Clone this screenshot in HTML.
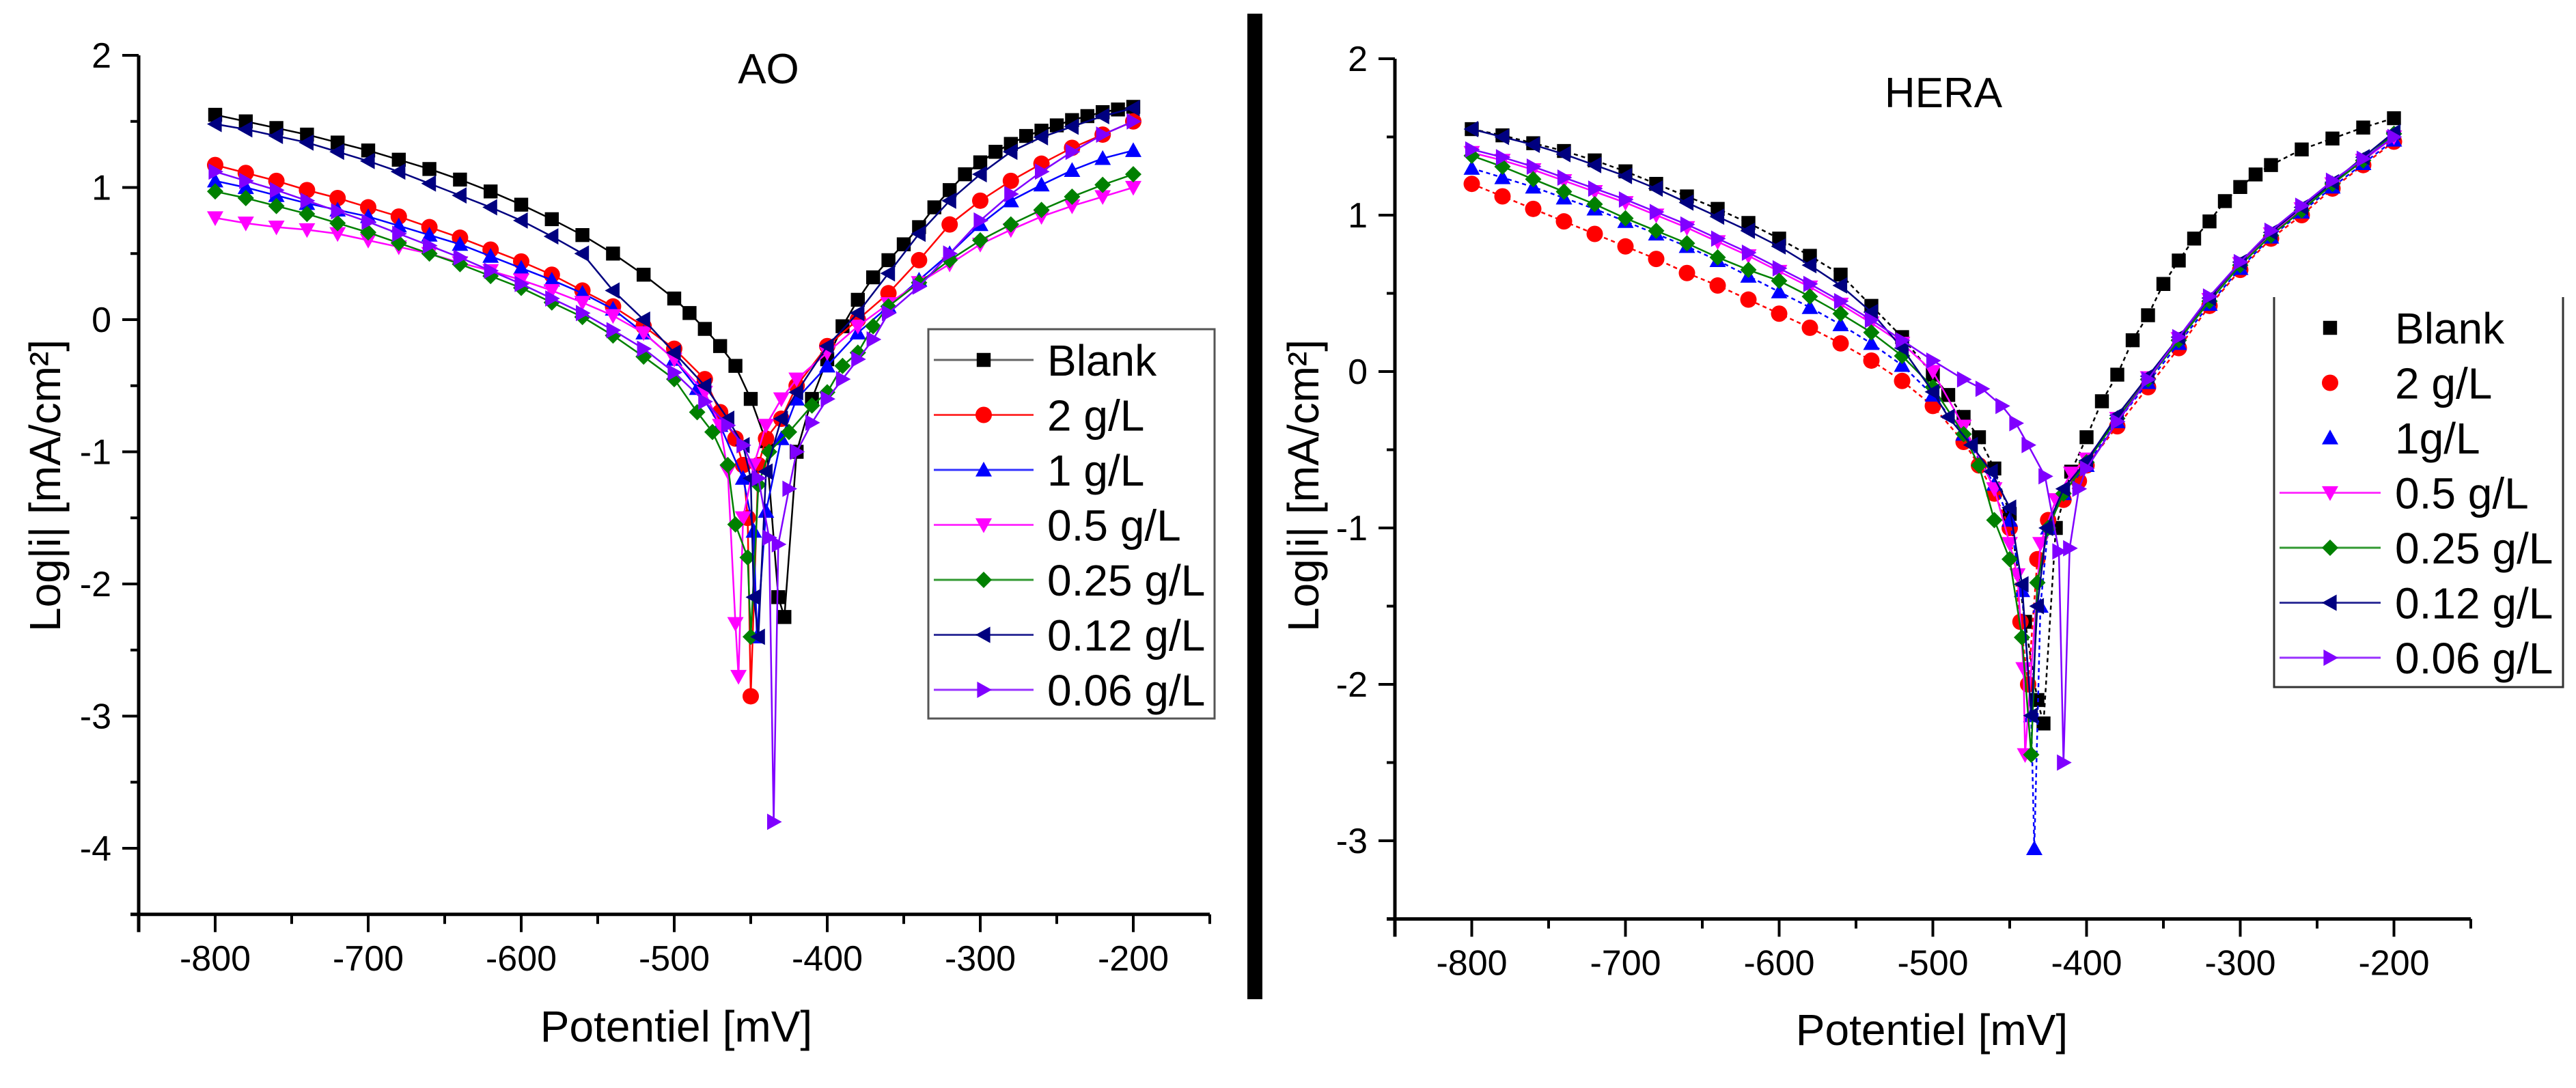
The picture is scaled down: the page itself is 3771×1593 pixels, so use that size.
<!DOCTYPE html>
<html><head><meta charset="utf-8"><style>
html,body{margin:0;padding:0;background:#fff;}
svg{display:block;font-family:"Liberation Sans",Arial,sans-serif;}
</style></head><body>
<svg id="fig" width="3771" height="1593" viewBox="0 0 3771 1593" xmlns="http://www.w3.org/2000/svg">
<rect x="0" y="0" width="3771" height="1593" fill="#fff"/>
<rect x="1826" y="20" width="22" height="1443" fill="#000"/>
<g id="left"></g>
<g id="right"></g>
</svg>
<script>
// ---------- data ----------
const seriesNames = ["Blank","2 g/L","1 g/L","0.5 g/L","0.25 g/L","0.12 g/L","0.06 g/L"];
const seriesNamesHera = ["Blank","2 g/L","1g/L","0.5 g/L","0.25 g/L","0.12 g/L","0.06 g/L"];
const xTicks = [-800,-700,-600,-500,-400,-300,-200];
const yTicksAO = [2,1,0,-1,-2,-3,-4];
const yTicksHera = [2,1,0,-1,-2,-3];

// AO panel
const aoBlankX = [-800,-780,-760,-740,-720,-700,-680,-660,-640,-620,-600,-580,-560,-540,-520,-500,-490,-480,-470,-460,-450,-440,-432,-428,-420,-410,-400,-390,-380,-370,-360,-350,-340,-330,-320,-310,-300,-290,-280,-270,-260,-250,-240,-230,-220,-210,-200];
const aoBlankY = [1.55,1.50,1.45,1.40,1.34,1.28,1.21,1.14,1.06,0.97,0.87,0.76,0.64,0.50,0.34,0.16,0.05,-0.07,-0.2,-0.35,-0.6,-0.92,-2.1,-2.25,-1.0,-0.6,-0.3,-0.05,0.15,0.32,0.45,0.57,0.7,0.85,0.98,1.1,1.19,1.27,1.33,1.39,1.43,1.47,1.51,1.54,1.57,1.59,1.61];
const ao2X = [-800,-780,-760,-740,-720,-700,-680,-660,-640,-620,-600,-580,-560,-540,-520,-500,-480,-470,-460,-455,-452,-450,-445,-440,-430,-420,-400,-380,-360,-340,-320,-300,-280,-260,-240,-220,-200];
const ao2Y = [1.17,1.11,1.05,0.98,0.92,0.85,0.78,0.7,0.62,0.53,0.44,0.34,0.22,0.1,-0.05,-0.22,-0.45,-0.7,-0.9,-1.1,-1.5,-2.85,-1.1,-0.9,-0.75,-0.5,-0.2,0.0,0.2,0.45,0.72,0.9,1.05,1.18,1.3,1.4,1.5];
const ao1X = [-800,-780,-760,-740,-720,-700,-680,-660,-640,-620,-600,-580,-560,-540,-520,-500,-485,-470,-455,-448,-446,-440,-430,-420,-400,-380,-360,-340,-320,-300,-280,-260,-240,-220,-200];
const ao1Y = [1.05,1.0,0.94,0.88,0.83,0.78,0.71,0.64,0.57,0.48,0.39,0.3,0.2,0.08,-0.1,-0.3,-0.52,-0.8,-1.2,-1.6,-2.4,-1.45,-0.9,-0.6,-0.35,-0.1,0.1,0.3,0.5,0.72,0.9,1.02,1.13,1.22,1.28];
const ao05X = [-800,-780,-760,-740,-720,-700,-680,-660,-640,-620,-600,-580,-560,-540,-520,-500,-480,-470,-465,-460,-458,-455,-448,-440,-430,-420,-400,-380,-360,-340,-320,-300,-280,-260,-240,-220,-200];
const ao05Y = [0.77,0.73,0.7,0.68,0.65,0.6,0.55,0.5,0.43,0.37,0.3,0.22,0.13,0.03,-0.1,-0.3,-0.55,-0.8,-1.15,-2.3,-2.7,-1.5,-1.1,-0.8,-0.6,-0.45,-0.25,-0.05,0.12,0.28,0.42,0.57,0.68,0.78,0.86,0.93,1.0];
const ao025X = [-800,-780,-760,-740,-720,-700,-680,-660,-640,-620,-600,-580,-560,-540,-520,-500,-485,-475,-465,-460,-452,-450,-445,-438,-425,-410,-400,-390,-380,-370,-360,-340,-320,-300,-280,-260,-240,-220,-200];
const ao025Y = [0.97,0.92,0.86,0.8,0.73,0.66,0.58,0.5,0.42,0.33,0.24,0.13,0.02,-0.12,-0.28,-0.45,-0.7,-0.85,-1.1,-1.55,-1.8,-2.4,-1.25,-1.0,-0.85,-0.65,-0.55,-0.35,-0.25,-0.05,0.1,0.28,0.45,0.6,0.72,0.83,0.93,1.02,1.1];
const ao012X = [-800,-780,-760,-740,-720,-700,-680,-660,-640,-620,-600,-580,-560,-540,-520,-500,-480,-465,-455,-450,-448,-445,-440,-430,-420,-400,-380,-360,-340,-320,-300,-280,-260,-240,-220,-200];
const ao012Y = [1.48,1.44,1.39,1.34,1.27,1.2,1.12,1.03,0.94,0.85,0.75,0.63,0.5,0.22,0.0,-0.25,-0.5,-0.75,-0.95,-1.2,-2.1,-2.4,-1.15,-0.75,-0.55,-0.2,0.05,0.35,0.65,0.9,1.1,1.27,1.38,1.46,1.54,1.6];
const ao006X = [-800,-780,-760,-740,-720,-700,-680,-660,-640,-620,-600,-580,-560,-540,-520,-500,-480,-465,-455,-445,-438,-435,-432,-425,-420,-410,-400,-390,-380,-370,-360,-340,-320,-300,-280,-260,-240,-220,-200];
const ao006Y = [1.12,1.05,0.98,0.9,0.82,0.74,0.65,0.56,0.47,0.37,0.27,0.16,0.05,-0.08,-0.22,-0.4,-0.62,-0.8,-0.95,-1.2,-1.65,-3.8,-1.7,-1.28,-1.0,-0.78,-0.6,-0.45,-0.3,-0.15,0.05,0.25,0.5,0.75,0.95,1.12,1.27,1.4,1.5];

// HERA panel
const hBlankX = [-800,-780,-760,-740,-720,-700,-680,-660,-640,-620,-600,-580,-560,-540,-520,-500,-490,-480,-470,-460,-450,-440,-432,-428,-420,-410,-400,-390,-380,-370,-360,-350,-340,-330,-320,-310,-300,-290,-280,-260,-240,-220,-200];
const hBlankY = [1.55,1.51,1.46,1.41,1.35,1.28,1.2,1.12,1.04,0.95,0.85,0.74,0.62,0.42,0.22,-0.02,-0.15,-0.29,-0.42,-0.62,-0.91,-1.6,-2.1,-2.25,-1.0,-0.64,-0.42,-0.19,-0.02,0.2,0.36,0.56,0.71,0.85,0.96,1.09,1.18,1.26,1.32,1.42,1.49,1.56,1.62];
const h2X = [-800,-780,-760,-740,-720,-700,-680,-660,-640,-620,-600,-580,-560,-540,-520,-500,-480,-470,-460,-450,-443,-438,-432,-425,-415,-405,-400,-380,-360,-340,-320,-300,-280,-260,-240,-220,-200];
const h2Y = [1.2,1.12,1.04,0.96,0.88,0.8,0.72,0.63,0.55,0.46,0.37,0.28,0.18,0.07,-0.06,-0.22,-0.45,-0.6,-0.78,-1.0,-1.6,-2.0,-1.2,-0.95,-0.82,-0.7,-0.6,-0.35,-0.1,0.15,0.42,0.65,0.85,1.0,1.17,1.32,1.47];
const h1X = [-800,-780,-760,-740,-720,-700,-680,-660,-640,-620,-600,-580,-560,-540,-520,-500,-480,-460,-450,-442,-436,-434,-430,-425,-415,-400,-380,-360,-340,-320,-300,-280,-260,-240,-220,-200];
const h1Y = [1.3,1.24,1.18,1.11,1.04,0.96,0.88,0.8,0.71,0.61,0.51,0.41,0.3,0.18,0.04,-0.15,-0.4,-0.72,-0.95,-1.4,-2.2,-3.05,-1.5,-1.0,-0.78,-0.6,-0.32,-0.07,0.18,0.43,0.66,0.86,1.02,1.18,1.33,1.48];
const h05X = [-800,-780,-760,-740,-720,-700,-680,-660,-640,-620,-600,-580,-560,-540,-520,-500,-480,-460,-450,-445,-441,-440,-430,-420,-410,-400,-380,-360,-340,-320,-300,-280,-260,-240,-220,-200];
const h05Y = [1.4,1.35,1.29,1.22,1.15,1.08,1.0,0.92,0.83,0.74,0.64,0.54,0.43,0.31,0.18,0.0,-0.35,-0.75,-1.1,-1.3,-1.9,-2.45,-1.1,-0.82,-0.65,-0.56,-0.3,-0.04,0.21,0.46,0.69,0.88,1.04,1.2,1.35,1.5];
const h025X = [-800,-780,-760,-740,-720,-700,-680,-660,-640,-620,-600,-580,-560,-540,-520,-500,-480,-470,-460,-450,-442,-436,-432,-425,-415,-400,-380,-360,-340,-320,-300,-280,-260,-240,-220,-200];
const h025Y = [1.38,1.31,1.23,1.15,1.07,0.98,0.9,0.82,0.73,0.65,0.58,0.48,0.37,0.25,0.1,-0.1,-0.4,-0.6,-0.95,-1.2,-1.7,-2.45,-1.35,-1.0,-0.78,-0.58,-0.3,-0.05,0.2,0.45,0.68,0.87,1.03,1.2,1.35,1.52];
const h012X = [-800,-780,-760,-740,-720,-700,-680,-660,-640,-620,-600,-580,-560,-540,-520,-500,-490,-475,-462,-450,-442,-436,-432,-426,-415,-400,-380,-360,-340,-320,-300,-280,-260,-240,-220,-200];
const h012Y = [1.55,1.5,1.45,1.39,1.32,1.25,1.17,1.08,0.99,0.9,0.8,0.68,0.55,0.38,0.15,-0.13,-0.29,-0.47,-0.64,-0.87,-1.36,-2.2,-1.5,-1.0,-0.75,-0.57,-0.28,-0.03,0.22,0.47,0.7,0.89,1.05,1.21,1.37,1.53];
const h006X = [-800,-780,-760,-740,-720,-700,-680,-660,-640,-620,-600,-580,-560,-540,-520,-500,-480,-468,-455,-446,-438,-427,-418,-415,-411,-405,-400,-380,-360,-340,-320,-300,-280,-260,-240,-220,-200];
const h006Y = [1.42,1.37,1.31,1.24,1.17,1.1,1.02,0.94,0.85,0.76,0.66,0.56,0.45,0.33,0.2,0.07,-0.05,-0.11,-0.22,-0.33,-0.47,-0.67,-1.15,-2.5,-1.13,-0.75,-0.62,-0.32,-0.05,0.22,0.48,0.7,0.9,1.06,1.22,1.36,1.5];

const colors = ["#000000","#ff0000","#0000ff","#ff00ff","#008000","#000080","#8000ff"];
const shapes = ["square","circle","up","down","diamond","left","right"];

// ---------- drawing ----------
const NS = "http://www.w3.org/2000/svg";
function mk(tag, parent, attrs){
  const el = document.createElementNS(NS, tag);
  for (const k in attrs) el.setAttribute(k, attrs[k]);
  parent.appendChild(el);
  return el;
}
function markerPath(shape, cx, cy, r){
  switch(shape){
    case "square": return `M${cx-r*0.85},${cy-r*0.85}h${r*1.7}v${r*1.7}h${-r*1.7}z`;
    case "circle": return `M${cx-r},${cy}a${r},${r} 0 1,0 ${2*r},0a${r},${r} 0 1,0 ${-2*r},0z`;
    case "up": return `M${cx},${cy-r}L${cx+r},${cy+r*0.8}L${cx-r},${cy+r*0.8}z`;
    case "down": return `M${cx},${cy+r}L${cx+r},${cy-r*0.8}L${cx-r},${cy-r*0.8}z`;
    case "diamond": return `M${cx},${cy-r}L${cx+r},${cy}L${cx},${cy+r}L${cx-r},${cy}z`;
    case "left": return `M${cx-r},${cy}L${cx+r*0.8},${cy-r}L${cx+r*0.8},${cy+r}z`;
    case "right": return `M${cx+r},${cy}L${cx-r*0.8},${cy-r}L${cx-r*0.8},${cy+r}z`;
  }
}

function drawPanel(g, cfg){
  const xs = v => cfg.x0 + (v - (-850)) * cfg.kx;
  const ys = v => cfg.y0 + (2 - v) * cfg.ky;
  const axisBottom = ys(cfg.ymin), xRight = xs(-150);
  let a = mk("line", g, {x1:cfg.x0, y1:ys(2), x2:cfg.x0, y2:axisBottom+26, stroke:"#000","stroke-width":5});
  
  
  a = mk("line", g, {x1:cfg.x0-12, y1:axisBottom, x2:xRight, y2:axisBottom, stroke:"#000","stroke-width":5});
  
  
  for (let v=-850; v<=-150; v+=50){
    const major = v % 100 === 0;
    mk("line", g, {x1:xs(v), y1:axisBottom, x2:xs(v), y2:axisBottom+(major?26:14), stroke:"#000","stroke-width":4});
  }
  xTicks.forEach(v=>{
    const t = mk("text", g, {x:xs(v), y:axisBottom+82, "font-size":52, "text-anchor":"middle", fill:"#000"});
    t.textContent = v;
    
    
  });
  for (let v=2; v>=cfg.ymin-0.001; v-=0.5){
    const major = Math.abs(v - Math.round(v))<0.01;
    mk("line", g, {x1:cfg.x0-(major?24:12), y1:ys(v), x2:cfg.x0, y2:ys(v), stroke:"#000","stroke-width":4});
  }
  cfg.yTicks.forEach(v=>{
    const t = mk("text", g, {x:cfg.x0-40, y:ys(v)+18, "font-size":52, "text-anchor":"end", fill:"#000"});
    t.textContent = v;
    
    
  });
  let t = mk("text", g, {x:cfg.titleX, y:cfg.titleY, "font-size":62, "text-anchor":"middle", fill:"#000"});
  t.textContent = cfg.title;
  
  
  t = mk("text", g, {x:cfg.xtX, y:cfg.xtY, "font-size":64, "text-anchor":"middle", fill:"#000"});
  t.textContent = "Potentiel [mV]";
  
  
  t = mk("text", g, {x:0, y:0, "font-size":64, "text-anchor":"middle", fill:"#000", transform:`translate(${cfg.ytX},711) rotate(-90)`});
  t.textContent = "Log|i| [mA/cm²]";
  
  
  cfg.series.forEach((s,i)=>{
    const sg = mk("g", g, {});
    
    
    const pts = s[0].map((x,j)=>xs(x)+","+ys(s[1][j])).join(" ");
    mk("polyline", sg, {points:pts, fill:"none", stroke:colors[i], "stroke-width":2.5, "stroke-dasharray": cfg.dashed && i<3 ? "6,5":"none"});
    s[0].forEach((x,j)=>{
      const p = mk("path", sg, {d:markerPath(shapes[i], xs(x), ys(s[1][j]), 12), fill:colors[i]});
      
      
    });
  });
  const L = cfg.legend;
  const lg = mk("g", g, {});
  
  
  if (cfg.noTop){
    mk("path", lg, {d:`M${L.x},${L.y}V${L.y+L.h}H${L.x+L.w}V${L.y}`, fill:"#fff", stroke:"#333","stroke-width":3});
  } else {
    mk("rect", lg, {x:L.x, y:L.y, width:L.w, height:L.h, fill:"#fff", stroke:"#555","stroke-width":3});
  }
  cfg.names.forEach((n,i)=>{
    const ey = L.r0 + i*L.dy;
    const eg = mk("g", lg, {});
    
    
    if (!(cfg.noLineLegend && i<3)) mk("line", eg, {x1:L.lx1, y1:ey, x2:L.lx2, y2:ey, stroke:colors[i], "stroke-width":3, opacity:i===0?0.6:0.8});
    mk("path", eg, {d:markerPath(shapes[i], (L.lx1+L.lx2)/2, ey, 12), fill:colors[i]});
    const tt = mk("text", eg, {x:L.tx, y:ey+23, "font-size":64, fill:"#000"});
    tt.textContent = n;
  });
}

drawPanel(document.getElementById("left"), {
  x0:203, kx:2.24, y0:81, ky:193.5, ymin:-4.5, yTicks:yTicksAO,
  title:"AO", titleX:1125, titleY:122, xtX:990, xtY:1525, ytX:88,
  names:seriesNames,
  series:[[aoBlankX,aoBlankY],[ao2X,ao2Y],[ao1X,ao1Y],[ao05X,ao05Y],[ao025X,ao025Y],[ao012X,ao012Y],[ao006X,ao006Y]],
  legend:{x:1359,y:482,w:419,h:570,r0:527,dy:80.5,lx1:1367,lx2:1513,tx:1533}
});
drawPanel(document.getElementById("right"), {
  x0:2042, kx:2.25, y0:86, ky:229, ymin:-3.5, yTicks:yTicksHera, dashed:true, noTop:true, noLineLegend:true,
  title:"HERA", titleX:2845, titleY:157, xtX:2828, xtY:1530, ytX:1930,
  names:seriesNamesHera,
  series:[[hBlankX,hBlankY],[h2X,h2Y],[h1X,h1Y],[h05X,h05Y],[h025X,h025Y],[h012X,h012Y],[h006X,h006Y]],
  legend:{x:3329,y:435,w:423,h:571,r0:480,dy:80.5,lx1:3337,lx2:3485,tx:3506}
});
</script>
</body></html>
